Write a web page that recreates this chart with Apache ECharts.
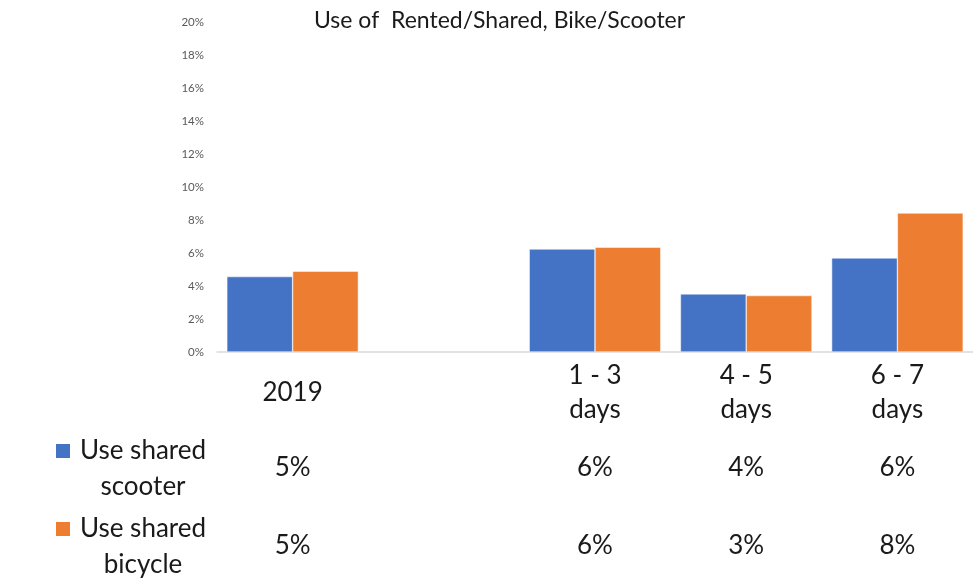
<!DOCTYPE html>
<html>
<head>
<meta charset="utf-8">
<script src="https://cdn.jsdelivr.net/npm/echarts@6/dist/echarts.min.js"></script>
<style>
  html, body { margin: 0; padding: 0; background: #fff; }
  #chart { width: 973px; height: 586px; }
</style>
</head>
<body>
<div id="chart"></div>
<script>
// categories (empty slot is the gap after 2019)
const categories = ['2019', '', '1 - 3\ndays', '4 - 5\ndays', '6 - 7\ndays'];
const scooter = [4.57, null, 6.24, 3.52, 5.7];
const bicycle = [4.9, null, 6.35, 3.42, 8.42];
const yTicks = [0, 2, 4, 6, 8, 10, 12, 14, 16, 18, 20];
const seriesNames = ['Use shared\nscooter', 'Use shared\nbicycle'];
const colors = ['#4472C4', '#ED7D31'];

const font = 'Lato, "Open Sans", sans-serif';

function pct(v) {
  return v == null ? '' : Math.round(v) + '%';
}

const chart = echarts.init(document.getElementById('chart'));

// extra category axes act as the data table rows
function tableAxis(values, margin) {
  return {
    type: 'category',
    data: categories,
    position: 'bottom',
    axisLine: { show: false },
    axisTick: { show: false },
    axisLabel: {
      margin: margin,
      verticalAlign: 'middle',
      fontFamily: font,
      fontSize: 26,
      color: '#1a1a1a',
      interval: 0,
      formatter: function (v, i) { return pct(values[i]); }
    }
  };
}

chart.setOption({
  animation: false,
  title: {
    text: 'Use of  Rented/Shared, Bike/Scooter',
    left: 309,
    top: 4,
    textStyle: { fontFamily: font, fontSize: 23, fontWeight: 'normal', color: '#1a1a1a' }
  },
  legend: {
    orient: 'vertical',
    left: 49,
    top: 433,
    itemWidth: 16,
    itemHeight: 16,
    itemGap: 16,
    icon: 'rect',
    data: seriesNames,
    formatter: function (name) {
      return name.split('\n').map(function (s) { return '{a|' + s + '}'; }).join('\n');
    },
    textStyle: {
      padding: [36, 0, 0, 0],
      rich: {
        a: {
          width: 134,
          align: 'center',
          fontFamily: font,
          fontSize: 26,
          lineHeight: 36,
          color: '#1a1a1a'
        }
      }
    }
  },
  grid: { left: 217, right: -7, top: 22, bottom: 234, containLabel: false },
  xAxis: [
    {
      type: 'category',
      data: categories,
      axisLine: { lineStyle: { color: '#d9d9d9', width: 1.5 } },
      axisTick: { show: false },
      axisLabel: {
        margin: 41,
        verticalAlign: 'middle',
        interval: 0,
        fontFamily: font,
        fontSize: 26,
        lineHeight: 34,
        color: '#1a1a1a'
      }
    },
    tableAxis(scooter, 116),
    tableAxis(bicycle, 194)
  ],
  yAxis: {
    type: 'value',
    min: yTicks[0],
    max: yTicks[yTicks.length - 1],
    interval: 2,
    splitLine: { show: false },
    axisLine: { show: false },
    axisTick: { show: false },
    axisLabel: {
      margin: 13,
      fontFamily: font,
      fontSize: 11.5,
      color: '#595959',
      formatter: '{value}%'
    }
  },
  series: [
    {
      name: seriesNames[0],
      type: 'bar',
      data: scooter,
      barGap: '0%',
      barCategoryGap: '13%',
      itemStyle: { color: colors[0], borderColor: '#ffffff', borderWidth: 0.5 }
    },
    {
      name: seriesNames[1],
      type: 'bar',
      data: bicycle,
      itemStyle: { color: colors[1], borderColor: '#ffffff', borderWidth: 0.5 }
    }
  ]
});
</script>
</body>
</html>
